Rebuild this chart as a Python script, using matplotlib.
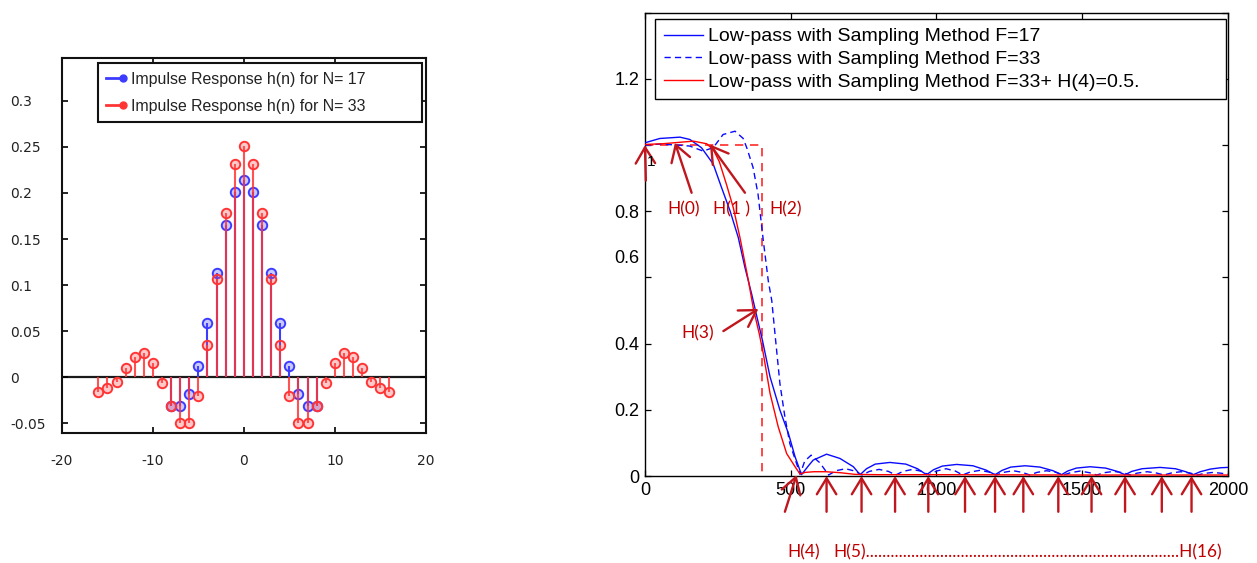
import matplotlib
matplotlib.use('Agg')
import matplotlib.pyplot as plt
from matplotlib.lines import Line2D
from matplotlib.legend_handler import HandlerLine2D
from matplotlib import font_manager
from matplotlib.transforms import ScaledTranslation

# ---------------- data: left chart (impulse responses) ----------------
n17 = list(range(-8, 9))
h17 = [-0.0315, -0.0315, -0.0185, 0.0123, 0.059, 0.113, 0.165, 0.2015, 0.214,
       0.2015, 0.165, 0.113, 0.059, 0.0123, -0.0185, -0.0315, -0.0315]
n33 = list(range(-16, 17))
h33 = [-0.016, -0.0123, -0.0051, 0.0098, 0.0214, 0.026, 0.0156, -0.0069, -0.0315,
       -0.0503, -0.0503, -0.0207, 0.0344, 0.106, 0.1786, 0.2315, 0.251,
       0.2315, 0.1786, 0.106, 0.0344, -0.0207, -0.0503, -0.0503, -0.0315,
       -0.0069, 0.0156, 0.026, 0.0214, 0.0098, -0.0051, -0.0123, -0.016]
left_labels = ['Impulse Response h(n) for N= 17', 'Impulse Response h(n) for N= 33']
left_xticks = [-20, -10, 0, 10, 20]
left_yticks = [-0.05, 0, 0.05, 0.1, 0.15, 0.2, 0.25, 0.3]
left_yticklabels = ['-0.05', '0', '0.05', '0.1', '0.15', '0.2', '0.25', '0.3']

# ---------------- data: right chart (frequency responses) ----------------
f17 = [0, 51, 120, 154, 194, 234, 263, 292, 320, 343, 366, 383, 403, 429, 463, 492, 515, 537,
       560, 577, 623, 669, 715, 738,
       760, 790, 840, 895, 935, 966,
       990, 1020, 1069, 1125, 1170, 1201,
       1225, 1255, 1304, 1355, 1400, 1429,
       1450, 1480, 1527, 1580, 1620, 1647,
       1670, 1705, 1767, 1820, 1855, 1881,
       1905, 1940, 1975, 2000]
m17 = [1.007, 1.02, 1.024, 1.017, 0.992, 0.943, 0.871, 0.801, 0.721, 0.63, 0.55, 0.485, 0.41, 0.30, 0.199, 0.129, 0.058, 0.004,
       0.030, 0.048, 0.066, 0.053, 0.028, 0.004,
       0.022, 0.036, 0.041, 0.036, 0.022, 0.004,
       0.019, 0.030, 0.035, 0.031, 0.018, 0.004,
       0.017, 0.027, 0.031, 0.027, 0.016, 0.004,
       0.015, 0.024, 0.028, 0.024, 0.014, 0.004,
       0.014, 0.022, 0.026, 0.022, 0.013, 0.004,
       0.013, 0.021, 0.025, 0.026]

f33 = [0, 51, 114, 154, 199, 234, 268, 309, 337, 350, 371, 388, 406, 423, 435, 446, 463, 480, 497, 520, 532,
       548, 570, 600, 630,
       655, 688, 720, 745,
       770, 803, 835, 860,
       885, 918, 950, 975,
       1000, 1033, 1065, 1090,
       1115, 1148, 1180, 1205,
       1230, 1263, 1295, 1320,
       1345, 1378, 1410, 1435,
       1460, 1493, 1525, 1550,
       1575, 1608, 1640, 1665,
       1690, 1723, 1755, 1780,
       1805, 1838, 1870, 1895,
       1920, 1950, 1980, 2000]
m33 = [1.0, 1.003, 1.0, 0.997, 0.982, 0.992, 1.032, 1.042, 1.02, 0.99, 0.932, 0.851, 0.711, 0.59, 0.53, 0.43, 0.279, 0.179, 0.098, 0.038, 0.005,
       0.045, 0.063, 0.040, 0.003,
       0.016, 0.022, 0.015, 0.003,
       0.014, 0.020, 0.014, 0.003,
       0.014, 0.020, 0.014, 0.003,
       0.015, 0.022, 0.015, 0.003,
       0.012, 0.017, 0.012, 0.003,
       0.011, 0.016, 0.011, 0.003,
       0.011, 0.016, 0.011, 0.003,
       0.010, 0.015, 0.010, 0.003,
       0.010, 0.014, 0.010, 0.003,
       0.009, 0.013, 0.009, 0.003,
       0.009, 0.013, 0.009, 0.003,
       0.008, 0.011, 0.008, 0.005]

f33h = [0, 60, 100, 166, 212, 235, 255, 280, 303, 326, 355, 372, 392, 406, 429, 457, 486, 515, 532,
        550, 580, 620, 670, 720, 800, 1000, 1500, 2000]
m33h = [1.002, 1.004, 1.007, 1.012, 1.004, 0.985, 0.95, 0.88, 0.811, 0.72, 0.59, 0.505, 0.43, 0.37, 0.25, 0.149, 0.068, 0.028, 0.006,
        0.011, 0.013, 0.013, 0.010, 0.005, 0.004, 0.004, 0.003, 0.003]

ideal_f = [0, 400, 400]
ideal_m = [1.0, 1.0, 0.0]

right_labels = ['Low-pass with Sampling Method F=17',
                'Low-pass with Sampling Method F=33',
                'Low-pass with Sampling Method F=33+ H(4)=0.5.']
right_xticks = [0, 500, 1000, 1500, 2000]
right_yticks = [0, 0.2, 0.4, 0.6, 0.8, 1.0, 1.2, 1.4]
right_yticklabels = ['0', '0.2', '0.4', '0.6', '0.8', '', '1.2', '']

# annotation arrows: (tip f, tip value, tail f, tail value)
top_arrows = [(0, 1.0, 3, 0.893), (103, 1.007, 160, 0.856),
              (223, 1.002, 343, 0.856), (389, 0.505, 269, 0.438),
              (520, 0.003, 480, -0.108)]
sample_freqs = [623, 743, 858, 972, 1098, 1201, 1298, 1418, 1532, 1647, 1773, 1875]
sample_tail = -0.108


def pick(fams):
    for f in fams:
        try:
            font_manager.findfont(font_manager.FontProperties(family=f), fallback_to_default=False)
            return f
        except Exception:
            pass
    return None


if pick(['Liberation Sans Narrow']):
    leg_font, leg_size, leg_sp, leg_bp = 'Liberation Sans Narrow', 14, 0.45, 0.45
else:
    leg_font, leg_size, leg_sp, leg_bp = 'Liberation Sans', 11.4, 0.74, 0.55

fig = plt.figure(figsize=(12.57, 5.63), dpi=100)

# ======================= LEFT CHART =======================
blue = '#3c3cff'
red = '#ff3535'
axL = fig.add_axes([0.0493, 0.2314, 0.2894, 0.6656])
axL.set_xlim(-20, 20)
axL.set_ylim(-0.0605, 0.3467)
axL.axhline(0, color='#1a1a1a', lw=1.6, zorder=1)

mk1, st1, bl1 = axL.stem(n17, h17, basefmt=' ')
st1.set_color(blue)
st1.set_linewidth(1.5)
mk1.set_marker('o')
mk1.set_markersize(6.8)
mk1.set_markeredgecolor(blue)
mk1.set_markerfacecolor((0.3, 0.3, 1.0, 0.3))
mk1.set_markeredgewidth(1.4)

mk2, st2, bl2 = axL.stem(n33, h33, basefmt=' ')
st2.set_color(red)
st2.set_alpha(0.85)
st2.set_linewidth(1.5)
mk2.set_marker('o')
mk2.set_markersize(6.8)
mk2.set_markeredgecolor(red)
mk2.set_markerfacecolor((1.0, 0.3, 0.3, 0.3))
mk2.set_markeredgewidth(1.4)

for sp in axL.spines.values():
    sp.set_linewidth(1.5)
    sp.set_color('#111111')
axL.set_xticks(left_xticks)
axL.set_xticklabels([str(v) for v in left_xticks])
axL.set_yticks(left_yticks)
axL.set_yticklabels(left_yticklabels)
axL.tick_params(axis='x', direction='in', top=True, length=4, width=1.2, pad=15,
                labelsize=10, labelcolor='#222222')
axL.tick_params(axis='y', direction='in', right=True, length=4, width=1.2, pad=37.5,
                labelsize=10, labelcolor='#222222')
for lbl in axL.get_yticklabels():
    lbl.set_horizontalalignment('left')
    lbl.set_family('DejaVu Sans')
for lbl in axL.get_xticklabels():
    lbl.set_family('DejaVu Sans')


class EndMarkerHandler(HandlerLine2D):
    def create_artists(self, legend, orig_handle, xdescent, ydescent, width, height, fontsize, trans):
        arts = super().create_artists(legend, orig_handle, xdescent, ydescent, width, height, fontsize, trans)
        for a in arts:
            if isinstance(a, Line2D) and len(a.get_xdata()) > 0:
                a.set_markevery([len(a.get_xdata()) - 1])
        return arts


hL = [Line2D([], [], color=blue, lw=2, marker='o', ms=5, mfc=blue, mec=blue),
      Line2D([], [], color=red, lw=2, marker='o', ms=5, mfc=red, mec=red)]
legL = axL.legend(hL, left_labels, loc='upper left', bbox_to_anchor=(0.0982, 0, 0.891, 0.9859),
                  mode='expand', borderaxespad=0, fancybox=False, numpoints=2,
                  handler_map={Line2D: EndMarkerHandler(numpoints=2, marker_pad=0)},
                  prop={'family': leg_font, 'size': leg_size},
                  handlelength=1.05, handletextpad=0.5, borderpad=leg_bp, labelspacing=leg_sp,
                  framealpha=1, edgecolor='#111111')
legL.get_frame().set_linewidth(1.5)
for t in legL.get_texts():
    t.set_color('#222222')

# ======================= RIGHT CHART =======================
axR = fig.add_axes([0.5131, 0.1545, 0.4638, 0.8229])
axR.set_xlim(0, 2000)
axR.set_ylim(0, 1.4)
l1, = axR.plot(f17, m17, color='#0a0aff', lw=1.0, label=right_labels[0], zorder=3)
l2, = axR.plot(f33, m33, color='#0a0aff', lw=1.0, ls=(0, (4.5, 3)), label=right_labels[1], zorder=3)
l3, = axR.plot(f33h, m33h, color='#ff0000', lw=1.0, label=right_labels[2], zorder=4)
axR.plot(ideal_f, ideal_m, color='#ff2a2a', lw=1.2, ls=(0, (5, 4)), zorder=2)

axR.set_xticks(right_xticks)
axR.set_xticklabels([str(v) for v in right_xticks])
axR.set_yticks(right_yticks)
axR.set_yticklabels(right_yticklabels)
axR.tick_params(direction='in', top=True, right=True, length=4.5, width=0.9,
                labelsize=13, pad=4.0)
for lbl in axR.get_xticklabels() + axR.get_yticklabels():
    lbl.set_family('Liberation Sans')
# the 0.6 label sits a little above its tick in the original
yl = axR.get_yticklabels()[3]
yl.set_transform(yl.get_transform() + ScaledTranslation(0, 21 / 100, fig.dpi_scale_trans))
for sp in axR.spines.values():
    sp.set_linewidth(1.0)

legR = axR.legend([l1, l2, l3], right_labels, loc='upper left',
                  bbox_to_anchor=(0.01715, 0, 0.979, 0.9864), mode='expand', borderaxespad=0,
                  fancybox=False, framealpha=1, edgecolor='black',
                  prop={'family': 'Liberation Sans', 'size': 14},
                  handlelength=2.0, handletextpad=0.3, borderpad=0.45, labelspacing=0.26)
legR.get_frame().set_linewidth(1.0)

arc = '#c0161e'
txtc = '#c00000'
ap = dict(arrowstyle='->,head_length=1.15,head_width=0.7', mutation_scale=10,
          color=arc, lw=1.7, shrinkA=0, shrinkB=0)
for (xt, yt, xs, ys) in top_arrows:
    axR.annotate('', xy=(xt, yt), xytext=(xs, ys), arrowprops=ap, annotation_clip=False, zorder=6)
for fq in sample_freqs:
    axR.annotate('', xy=(fq, 0.0), xytext=(fq, sample_tail), arrowprops=ap, annotation_clip=False, zorder=6)

tfont = dict(family='Lato', size=12.5, color=txtc)
axR.text(134, 0.807, 'H(0)', ha='center', va='center', **tfont)
axR.text(298, 0.807, 'H(1 )', ha='center', va='center', **tfont)
axR.text(482, 0.807, 'H(2)', ha='center', va='center', **tfont)
axR.text(182, 0.431, 'H(3)', ha='center', va='center', **tfont)
axR.text(545, -0.232, 'H(4)', ha='center', va='center', clip_on=False, **tfont)
axR.text(645, -0.232, 'H(5)' + '.' * 76 + 'H(16)', ha='left', va='center', clip_on=False, **tfont)
axR.text(21, 0.95, '1', ha='center', va='center', family='Liberation Sans', size=11, color='black', zorder=7)

fig.savefig('out.png', dpi=100)
